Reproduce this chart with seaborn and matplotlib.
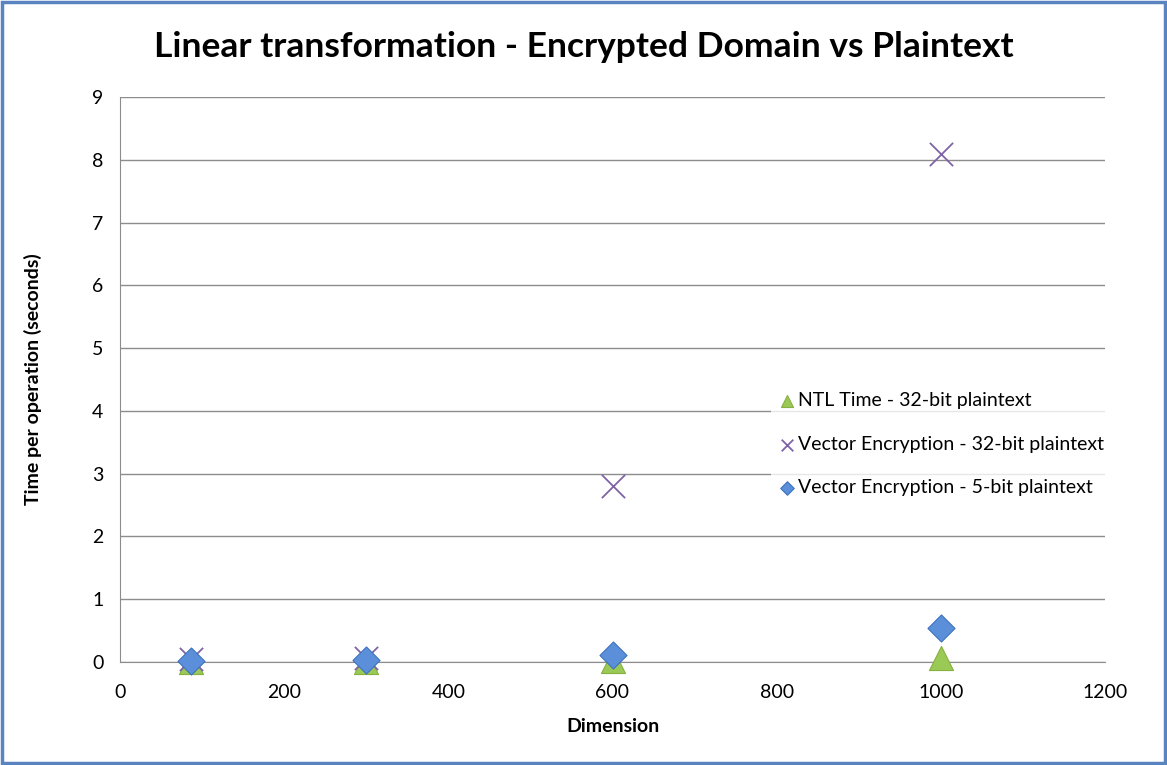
import numpy as np
import pandas as pd
import matplotlib
matplotlib.use('Agg')
import matplotlib.pyplot as plt
import seaborn as sns
from matplotlib.patches import Rectangle

# DATA
dimension = [87, 300, 600, 1000]
ntl_32 = [0.005, 0.005, 0.01, 0.07]
vec_32 = [0.05, 0.07, 2.80, 8.10]
vec_5 = [0.02, 0.03, 0.11, 0.54]

series_names = ['NTL Time - 32-bit plaintext',
                'Vector Encryption - 32-bit plaintext',
                'Vector Encryption - 5-bit plaintext']
x_ticks = [0, 200, 400, 600, 800, 1000, 1200]
y_ticks = [0, 1, 2, 3, 4, 5, 6, 7, 8, 9]

df = pd.DataFrame({
    'Dimension': dimension * 3,
    'Time': ntl_32 + vec_32 + vec_5,
    'Series': [series_names[0]] * 4 + [series_names[1]] * 4 + [series_names[2]] * 4,
})

sns.set_style('white')
plt.rcParams['font.family'] = ['Lato', 'DejaVu Sans']
plt.rcParams['text.color'] = 'black'
plt.rcParams['axes.labelcolor'] = 'black'
plt.rcParams['xtick.labelcolor'] = 'black'
plt.rcParams['ytick.labelcolor'] = 'black'

fig = plt.figure(figsize=(11.67, 7.65), dpi=100)
ax = fig.add_axes([120 / 1167, 1 - 662 / 765, (1105 - 120) / 1167, (662 - 97) / 765])

colors = {series_names[0]: '#9bc955', series_names[1]: '#7f63a6', series_names[2]: '#5b8fd9'}

# draw each series so marker styles match
for name in series_names:
    sub = df[df['Series'] == name]
    if name == series_names[1]:
        ax.scatter(sub['Dimension'], sub['Time'], marker='x', s=280, color=colors[name],
                   linewidths=1.3, label=name, zorder=3, clip_on=False)
    elif name == series_names[0]:
        sns.scatterplot(data=sub, x='Dimension', y='Time', marker='^', s=300, color=colors[name],
                        edgecolor='#86b140', linewidth=0.8, label=name, ax=ax, zorder=3,
                        clip_on=False)
    else:
        sns.scatterplot(data=sub, x='Dimension', y='Time', marker='D', s=190, color=colors[name],
                        edgecolor='#3f72bd', linewidth=0.8, label=name, ax=ax, zorder=4,
                        clip_on=False)

ax.set_xlim(0, 1200)
ax.set_ylim(0, 9)
ax.set_xticks(x_ticks)
ax.set_yticks(y_ticks)
ax.yaxis.grid(True, color='#8c8c8c', linewidth=1.0)
ax.set_axisbelow(True)
for side in ['top', 'right']:
    ax.spines[side].set_visible(False)
ax.spines['left'].set_color('#8c8c8c')
ax.spines['bottom'].set_color('#8c8c8c')
ax.tick_params(axis='both', which='both', length=6, color='#8c8c8c', direction='out',
               labelsize=14, pad=6)
ax.tick_params(axis='x', pad=10)

ax.set_xlabel('Dimension', fontsize=14, fontweight='bold', labelpad=12)
ax.set_ylabel('Time per operation (seconds)', fontsize=14, fontweight='bold', labelpad=36)

fig.text(0.5, 1 - 47 / 765, 'Linear transformation - Encrypted Domain vs Plaintext',
         ha='center', va='center', fontsize=25.5, fontweight='bold')

leg = ax.legend(loc='upper left', bbox_to_anchor=(651 / 985, 276 / 565), frameon=True,
                fontsize=14, handletextpad=0.1, handlelength=1.0, labelspacing=1.38,
                borderpad=0.3, borderaxespad=0, markerscale=0.5, fancybox=False)
leg.get_frame().set_edgecolor('none')
leg.get_frame().set_facecolor('white')
leg.get_frame().set_alpha(0.8)

# blue border round the chart
fig.patches.append(Rectangle((0.002, 0.003), 0.996, 0.994, transform=fig.transFigure,
                             fill=False, edgecolor='#5a84c0', linewidth=2.5))

fig.savefig('out.png', dpi=100)
